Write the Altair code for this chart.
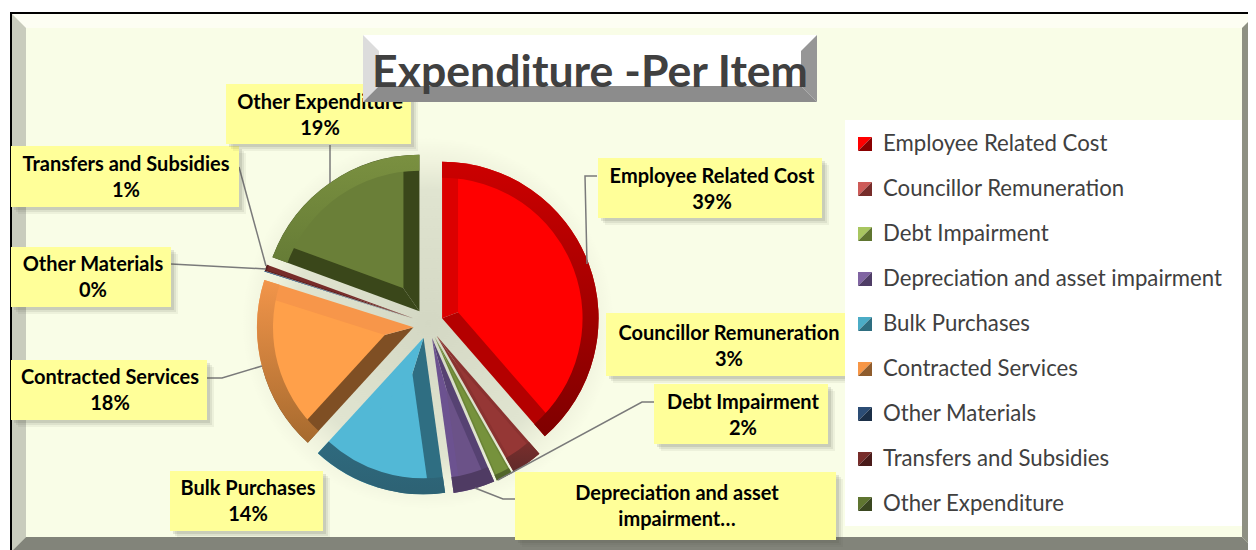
import math
import altair as alt
import pandas as pd

# ---- data ----
categories = ["Employee Related Cost", "Councillor Remuneration", "Debt Impairment",
              "Depreciation and asset impairment", "Bulk Purchases", "Contracted Services",
              "Other Materials", "Transfers and Subsidies", "Other Expenditure"]
values = [38.6, 3.2, 1.7, 4.3, 14.0, 18.1, 0.05, 0.65, 19.4]
label_first_line = ["Employee Related Cost", "Councillor Remuneration", "Debt Impairment",
                    "Depreciation and asset", "Bulk Purchases", "Contracted Services",
                    "Other Materials", "Transfers and Subsidies", "Other Expenditure"]
title_text = "Expenditure -Per Item"

# ---- styles ----
FONT = "Lato"
OX, OY = 8, 8
R = 156.5
CX, CY = 428.0, 323.5
EXPLODE = 15.0
# face, start edge, end edge, rim top, rim bottom, edge inset, rim depth
SLICE_STYLE = {
    "Employee Related Cost": ("#ff0000", "#dc0000", "#b40000", "#cc0000", "#7f0000", 16, 16),
    "Councillor Remuneration": ("#953735", "#8a3230", "#8a3230", "#7a2e2c", "#5f2a2a", 3, 16),
    "Debt Impairment": ("#76923c", "#6a8436", "#6a8436", "#55692c", "#4f6228", 1.5, 6),
    "Depreciation and asset impairment": ("#6b5288", "#564272", "#6c5290", "#4f3b63", "#4f3b63", 7, 16),
    "Bulk Purchases": ("#52b8d6", "#2f6e82", "#52b8d6", "#2f6a7e", "#2d6274", 16, 16),
    "Contracted Services": ("#ffa04a", "#7f4f24", "#f7964a", "#f2954a", "#a66a2e", 16, 16),
    "Other Materials": ("#1f497d", "#1f497d", "#1f497d", "#1f497d", "#1f497d", 0.01, 1),
    "Transfers and Subsidies": ("#772c2a", "#5a1f1f", "#772c2a", "#5a1f1f", "#5a1f1f", 1, 2),
    "Other Expenditure": ("#6a7f38", "#3a471a", "#3a471a", "#7a9040", "#667c36", 16, 16),
}
SWATCH = [("#ff0000", "#8a0000"), ("#cd5b58", "#772c2a"), ("#a8c660", "#5f7530"),
          ("#8064a2", "#4f3d66"), ("#4bacc6", "#2e6e80"), ("#f79646", "#8f5c2d"),
          ("#2c4d75", "#1b2f47"), ("#772c2a", "#4a1b1a"), ("#5f7530", "#3a4720")]
LABEL_BOX = [(598, 822, 158, 218, 712, 177), (606, 850, 313, 376, 729, 334),
             (654, 828, 384, 444, 743, 403), (515, 836, 472, 540, 677, 494),
             (170, 323, 471, 531, 248, 489), (11, 207, 360, 420, 110, 378),
             (11, 171, 247, 307, 93, 265), (11, 239, 146, 207, 126, 165),
             (226, 411, 84, 144, 320, 103)]
LEADERS = [[(597, 176), (585, 176), (587, 264)],
           [(654, 402), (642, 402), (498, 480)],
           [(515, 499), (503, 499), (475, 488)],
           [(207, 378), (222, 378), (262, 366)],
           [(171, 264), (266, 269)],
           [(239, 167), (266, 266)],
           [(330, 145), (330, 183)]]

X = lambda f="x": alt.X(f"{f}:Q", scale=None, axis=None)
Y = lambda f="y": alt.Y(f"{f}:Q", scale=None, axis=None)
TH = alt.Scale(domain=[0, 100], range=[0, 2 * math.pi])


def rect(x0, x1, y0, y1, color, opacity=1.0):
    d = pd.DataFrame([{"x": x0 - OX, "x2": x1 - OX, "y": y0 - OY, "y2": y1 - OY}])
    return alt.Chart(d).mark_rect(color=color, opacity=opacity).encode(
        x=X(), x2="x2:Q", y=Y(), y2="y2:Q")


def band(points, color):
    d = pd.DataFrame([{"x": a - OX, "y": b - OY, "y2": c - OY} for a, b, c in points])
    return alt.Chart(d).mark_area(color=color, opacity=1).encode(x=X(), y=Y(), y2="y2:Q")


layers = []
# ---- frame ----
L, T, RR, B = 10, 12, 1256, 551
layers.append(rect(L, RR, T, B, "#000000"))
layers.append(rect(L + 2, RR, T + 2, B, "#f9fde7"))
d = 14
x0, y0, x1, y1 = L + 2, T + 2, RR, B
layers.append(band([(x0, y0, y0), (x0 + d, y0, y0 + d), (x1 - d, y0, y0 + d), (x1, y0, y0)], "#fdfef3"))
layers.append(band([(x0, y0, y1), (x0 + d, y0 + d, y1 - d)], "#c9ccbd"))
layers.append(band([(x1 - d, y0 + d, y1 - d), (x1, y0, y1)], "#8e9083"))
layers.append(band([(x0, y1, y1), (x0 + d, y1 - d, y1), (x1 - d, y1 - d, y1), (x1, y1, y1)], "#82847a"))

# ---- soft glow under the pie ----
glow = alt.RadialGradient(gradient="radial", x1=0.5, y1=0.5, r1=0, x2=0.5, y2=0.5, r2=0.5,
                          stops=[alt.GradientStop(color="#d3d7c3", offset=0),
                                 alt.GradientStop(color="#e0e4d0", offset=0.72),
                                 alt.GradientStop(color="#eef1dc", offset=0.85),
                                 alt.GradientStop(color="#f9fde7", offset=1)])
g = pd.DataFrame([{"s": 0, "e": 100, "cx": CX - OX, "cy": CY - OY}])
layers.append(alt.Chart(g).mark_arc(outerRadius=R + 30, fill=glow, stroke=None).encode(
    theta=alt.Theta("s:Q", scale=TH, stack=None), theta2="e:Q", x=X("cx"), y=Y("cy")))

# ---- pie ----
cum = 0.0
slices = []
for c, v in zip(categories, values):
    slices.append((c, cum, cum + v))
    cum += v


def arc(row, inner, outer, fill, a=None, b=None, cx=None, cy=None):
    d = pd.DataFrame([{"s": row[1] if a is None else a, "e": row[2] if b is None else b,
                       "cx": cx - OX, "cy": cy - OY}])
    return alt.Chart(d).mark_arc(innerRadius=inner, outerRadius=outer, fill=fill, stroke=None).encode(
        theta=alt.Theta("s:Q", scale=TH, stack=None), theta2="e:Q", x=X("cx"), y=Y("cy"))


for row in slices:
    c, s, e = row
    face, e1, e2, rim1, rim2, de, dr = SLICE_STYLE[c]
    mid = (s + e) / 2
    ang = mid / 100 * 2 * math.pi
    half = (e - s) / 100 * math.pi
    ax = CX + EXPLODE * math.sin(ang)
    ay = CY - EXPLODE * math.cos(ang)
    layers.append(arc(row, 0, R, e1, s, mid, ax, ay))
    layers.append(arc(row, 0, R, e2, mid, e, ax, ay))
    shift = de / math.sin(half)
    if shift < R - dr:
        Rf = R - dr + 1
        rf = -shift * math.cos(half) + math.sqrt(Rf ** 2 - (shift * math.sin(half)) ** 2)
        layers.append(arc(row, 0, rf, face, s, e, ax + shift * math.sin(ang), ay - shift * math.cos(ang)))
    grad = alt.LinearGradient(gradient="linear", x1=0, x2=0, y1=0, y2=1,
                              stops=[alt.GradientStop(color=rim1, offset=0),
                                     alt.GradientStop(color=rim2, offset=1)])
    layers.append(arc(row, R - dr, R, grad, s, e, ax, ay))

# ---- leaders ----
rows = []
for i, pts in enumerate(LEADERS):
    for j, (a, b) in enumerate(pts):
        rows.append({"x": a - OX, "y": b - OY, "k": i, "o": j})
layers.append(alt.Chart(pd.DataFrame(rows)).mark_line(color="#7a7a7a", strokeWidth=1.5).encode(
    x=X(), y=Y(), detail="k:N", order="o:Q"))

# ---- data labels ----
text_rows = []
for i, (x0_, x1_, y0_, y1_, tx, ty) in enumerate(LABEL_BOX):
    for off, op in [(7, 0.07), (5, 0.1), (3, 0.14)]:
        layers.append(rect(x0_ + off, x1_ + off, y0_ + off, y1_ + off, "#55584a", op))
    layers.append(rect(x0_, x1_, y0_, y1_, "#ffff99"))
    text_rows.append({"x": tx - OX, "y": ty - OY, "t": label_first_line[i]})
    second = "impairment…" if i == 3 else f"{round(values[i])}%"
    text_rows.append({"x": tx - OX, "y": ty + 26 - OY, "t": second})
layers.append(alt.Chart(pd.DataFrame(text_rows)).mark_text(
    font=FONT, fontWeight="bold", fontSize=20, color="#000000", align="center", baseline="middle").encode(
    x=X(), y=Y(), text="t:N"))

# ---- title block ----
tl, tr, tt, tb, td = 363, 817, 35, 102, 16
layers.append(rect(tl, tr, tt, tb, "#ffffff"))
layers.append(band([(tl, tt, tb), (tl + td, tt + td, tb - td)], "#dcdcdc"))
layers.append(band([(tr - td, tt + td, tb - td), (tr, tt, tb)], "#969696"))
layers.append(band([(tl, tb, tb), (tl + td, tb - td, tb), (tr - td, tb - td, tb), (tr, tb, tb)], "#8c8c8c"))
layers.append(alt.Chart(pd.DataFrame([{"x": 590 - OX, "y": 86.5 - OY, "t": title_text}])).mark_text(
    font=FONT, fontWeight="bold", fontSize=44.6, color="#404040", align="center", baseline="alphabetic").encode(
    x=X(), y=Y(), text="t:N"))

# ---- legend ----
layers.append(rect(845, 1242, 120, 526, "#ffffff"))
leg = pd.DataFrame({"t": categories,
                    "y": [144 - OY + 45 * i for i in range(len(categories))],
                    "x": [865 - OX] * len(categories),
                    "tx": [883 - OX] * len(categories),
                    "light": [s[0] for s in SWATCH],
                    "dark": [s[1] for s in SWATCH]})
layers.append(alt.Chart(leg).mark_point(shape="M-1,-1L1,-1L-1,1Z", size=196, filled=True, opacity=1).encode(
    x=X(), y=Y(), color=alt.Color("light:N", scale=None)))
layers.append(alt.Chart(leg).mark_point(shape="M1,-1L1,1L-1,1Z", size=196, filled=True, opacity=1).encode(
    x=X(), y=Y(), color=alt.Color("dark:N", scale=None)))
layers.append(alt.Chart(leg).mark_text(
    font=FONT, fontSize=22.2, color="#404040", align="left", baseline="middle").encode(
    x=X("tx"), y=Y(), text="t:N"))

chart = alt.layer(*layers).properties(
    width=1240, height=542, padding=0, background="#ffffff",
    autosize=alt.AutoSizeParams(type="none")
).configure_view(stroke=None)

chart.save("out.html", embed_options={"renderer": "svg", "actions": False})
